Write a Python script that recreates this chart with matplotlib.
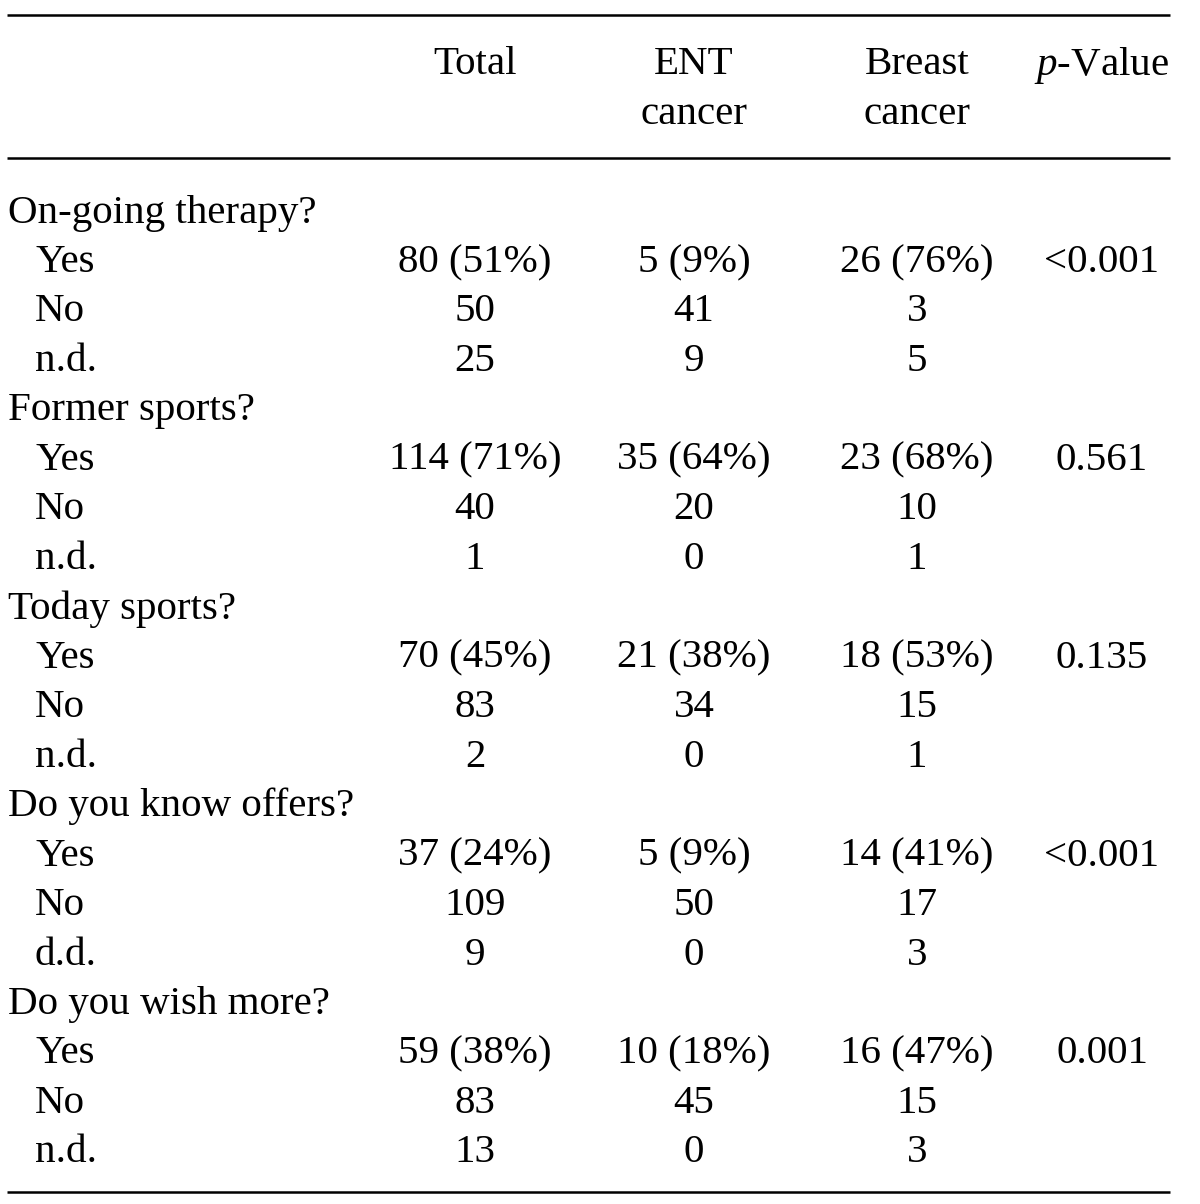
import matplotlib
matplotlib.use("Agg")
import matplotlib.pyplot as plt

# ---- data ----
col_headers = [["Total"], ["ENT", "cancer"], ["Breast", "cancer"], ["$p$-Value"]]
groups = ["On-going therapy?", "Former sports?", "Today sports?",
          "Do you know offers?", "Do you wish more?"]
sub_labels = [["Yes", "No", "n.d."], ["Yes", "No", "n.d."], ["Yes", "No", "n.d."],
              ["Yes", "No", "d.d."], ["Yes", "No", "n.d."]]
total = [["80 (51%)", "50", "25"], ["114 (71%)", "40", "1"], ["70 (45%)", "83", "2"],
         ["37 (24%)", "109", "9"], ["59 (38%)", "83", "13"]]
ent = [["5 (9%)", "41", "9"], ["35 (64%)", "20", "0"], ["21 (38%)", "34", "0"],
       ["5 (9%)", "50", "0"], ["10 (18%)", "45", "0"]]
breast = [["26 (76%)", "3", "5"], ["23 (68%)", "10", "1"], ["18 (53%)", "15", "1"],
          ["14 (41%)", "17", "3"], ["16 (47%)", "15", "3"]]
pvals = ["<0.001", "0.561", "0.135", "<0.001", "0.001"]

plt.rcParams["font.family"] = ["Liberation Serif", "DejaVu Serif"]
plt.rcParams["mathtext.fontset"] = "custom"
plt.rcParams["mathtext.it"] = "Liberation Serif:italic"
plt.rcParams["mathtext.rm"] = "Liberation Serif"

fig = plt.figure(figsize=(12, 12.04), dpi=100)
ax = fig.add_axes([0, 0, 1, 1])
ax.set_xlim(0, 1200)
ax.set_ylim(1204, 0)
ax.axis("off")

fs = 29.5
col_x = [475, 694, 917, 1102]
x_group = 8
x_sub = 35

# rules
for y in (15, 158, 1192):
    ax.plot([7, 1170], [y, y], color="black", lw=1.8, solid_capstyle="butt")

# headers
for cx, lines in zip(col_x, col_headers):
    for i, h in enumerate(lines):
        ax.text(cx, 65 + i * 49, h, ha="center", va="center", fontsize=fs)

y0 = 213
dy = 49.47
row = 0
for g in range(len(groups)):
    ax.text(x_group, y0 + row * dy, groups[g], ha="left", va="center", fontsize=fs)
    row += 1
    for k in range(3):
        y = y0 + row * dy
        ax.text(x_sub, y, sub_labels[g][k], ha="left", va="center", fontsize=fs)
        ax.text(col_x[0], y, total[g][k], ha="center", va="center", fontsize=fs)
        ax.text(col_x[1], y, ent[g][k], ha="center", va="center", fontsize=fs)
        ax.text(col_x[2], y, breast[g][k], ha="center", va="center", fontsize=fs)
        if k == 0:
            ax.text(col_x[3], y, pvals[g], ha="center", va="center", fontsize=fs)
        row += 1

fig.savefig("out.png", dpi=100)
